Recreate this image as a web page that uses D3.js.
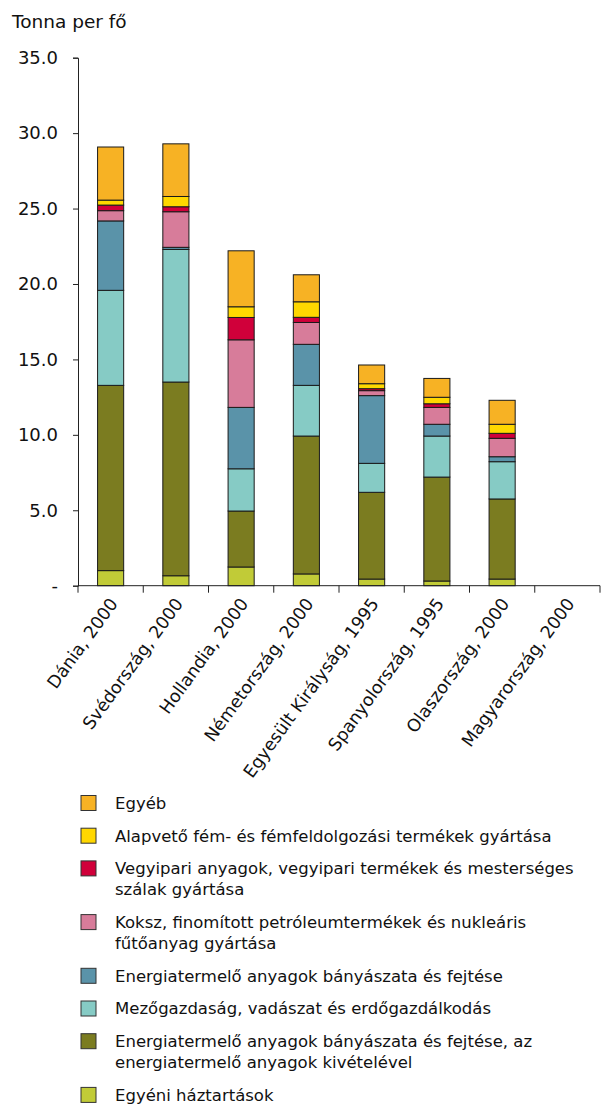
<!DOCTYPE html>
<html>
<head>
<meta charset="utf-8">
<script src="https://cdn.jsdelivr.net/npm/d3@7/dist/d3.min.js"></script>
<style>
  html, body { margin: 0; padding: 0; background: #fff; }
  svg { display: block; font-family: "DejaVu Sans", Verdana, sans-serif; }
</style>
</head>
<body>
<svg id="chart" width="602" height="1106"></svg>
<script>
// Countries (with reference year)
const categories = [
  "Dánia, 2000", "Svédország, 2000", "Hollandia, 2000", "Németország, 2000",
  "Egyesült Királyság, 1995", "Spanyolország, 1995", "Olaszország, 2000", "Magyarország, 2000"
];

// Series, bottom to top of each stack (tonnes per capita)
const seriesNames = [
  "Egyéni háztartások",
  "Energiatermelő anyagok bányászata és fejtése, az energiatermelő anyagok kivételével",
  "Mezőgazdaság, vadászat és erdőgazdálkodás",
  "Energiatermelő anyagok bányászata és fejtése",
  "Koksz, finomított petróleumtermékek és nukleáris fűtőanyag gyártása",
  "Vegyipari anyagok, vegyipari termékek és mesterséges szálak gyártása",
  "Alapvető fém- és fémfeldolgozási termékek gyártása",
  "Egyéb"
];
const seriesColors = ["#c1cb37", "#7b7c20", "#86cbc5", "#5a93a9", "#d77c9a", "#d0003a", "#ffd700", "#f7b224"];

const households   = [1.00, 0.66, 1.24, 0.78, 0.44, 0.31, 0.44, 0];
const mining       = [12.28, 12.84, 3.71, 9.14, 5.75, 6.89, 5.31, 0];
const agriculture  = [6.30, 8.79, 2.80, 3.36, 1.92, 2.72, 2.47, 0];
const energyMining = [4.60, 0.14, 4.07, 2.72, 4.49, 0.78, 0.33, 0];
const coke         = [0.68, 2.36, 4.48, 1.45, 0.33, 1.12, 1.22, 0];
const chemicals    = [0.37, 0.33, 1.48, 0.34, 0.13, 0.24, 0.33, 0];
const metals       = [0.33, 0.68, 0.71, 1.03, 0.33, 0.43, 0.60, 0];
const other        = [3.52, 3.49, 3.71, 1.79, 1.24, 1.25, 1.59, 0];

const yTicks = [0, 5, 10, 15, 20, 25, 30, 35];

// Legend order (top to bottom) and wrapped lines
const legendOrder = [7, 6, 5, 4, 3, 2, 1, 0];
const legendLines = [
  ["Egyéb"],
  ["Alapvető fém- és fémfeldolgozási termékek gyártása"],
  ["Vegyipari anyagok, vegyipari termékek és mesterséges", "szálak gyártása"],
  ["Koksz, finomított petróleumtermékek és nukleáris", "fűtőanyag gyártása"],
  ["Energiatermelő anyagok bányászata és fejtése"],
  ["Mezőgazdaság, vadászat és erdőgazdálkodás"],
  ["Energiatermelő anyagok bányászata és fejtése, az", "energiatermelő anyagok kivételével"],
  ["Egyéni háztartások"]
];

const seriesValues = [households, mining, agriculture, energyMining, coke, chemicals, metals, other];
const rows = categories.map((c, i) => {
  const r = { category: c };
  seriesValues.forEach((arr, k) => { r["s" + k] = arr[i]; });
  return r;
});
const keys = seriesValues.map((_, k) => "s" + k);
const stacked = d3.stack().keys(keys)(rows);

const svg = d3.select("#chart");
const plotLeft = 78, plotRight = 600, plotTop = 57.7, plotBottom = 585.7;

const x = d3.scaleBand().domain(categories).range([plotLeft, plotRight]).padding(0);
const y = d3.scaleLinear().domain([0, 35]).range([plotBottom, plotTop]);
const barW = x.bandwidth() * 0.4;

// Axis title
svg.append("text")
  .attr("x", 12).attr("y", 28)
  .attr("font-size", 18.5).attr("fill", "#111")
  .text("Tonna per fő");

// Bars
const layer = svg.append("g").selectAll("g")
  .data(stacked).join("g")
  .attr("fill", (d, i) => seriesColors[i]);

layer.selectAll("rect")
  .data(d => d.filter(p => p[1] - p[0] > 0))
  .join("rect")
  .attr("x", p => x(p.data.category) + (x.bandwidth() - barW) / 2)
  .attr("y", p => y(p[1]))
  .attr("width", barW)
  .attr("height", p => y(p[0]) - y(p[1]))
  .attr("stroke", "#1a1a1a")
  .attr("stroke-width", 1);

// Y axis
const yAxis = d3.axisLeft(y)
  .tickValues(yTicks)
  .tickSize(5)
  .tickPadding(15)
  .tickFormat(v => v === 0 ? "-" : d3.format(".1f")(v));
const gy = svg.append("g").attr("transform", `translate(${plotLeft},0)`).call(yAxis);
gy.select(".domain").attr("stroke", "#222");
gy.selectAll(".tick line").attr("stroke", "#222");
gy.selectAll(".tick text")
  .attr("font-size", 18).attr("fill", "#111")
  .attr("font-family", "DejaVu Sans, Verdana, sans-serif");

// X axis: ticks at category boundaries
const gx = svg.append("g").attr("transform", `translate(0,${plotBottom})`);
gx.append("line").attr("x1", plotLeft).attr("x2", plotRight).attr("stroke", "#222");
const bounds = categories.map(c => x(c)).concat([plotRight]);
gx.selectAll("line.tick").data(bounds).join("line")
  .attr("class", "tick")
  .attr("x1", d => d).attr("x2", d => d)
  .attr("y1", 0).attr("y2", 7)
  .attr("stroke", "#222");
gx.selectAll("text").data(categories).join("text")
  .attr("transform", c => `translate(${x(c) + x.bandwidth() / 2 + 8},${18}) rotate(-54)`)
  .attr("text-anchor", "end")
  .attr("font-size", 17.5).attr("fill", "#111")
  .text(c => c);

// Legend
const lg = svg.append("g");
let cy = 803;
legendOrder.forEach((k, i) => {
  const lines = legendLines[i];
  lg.append("rect")
    .attr("x", 81).attr("y", cy - 7.5)
    .attr("width", 15).attr("height", 15)
    .attr("fill", seriesColors[k])
    .attr("stroke", "#333").attr("stroke-width", 1);
  lines.forEach((t, j) => {
    lg.append("text")
      .attr("x", 115).attr("y", cy + j * 21)
      .attr("dy", "0.36em")
      .attr("font-size", 16.5).attr("fill", "#111")
      .text(t);
  });
  cy += lines.length * 21 + 11.7;
});
</script>
</body>
</html>
